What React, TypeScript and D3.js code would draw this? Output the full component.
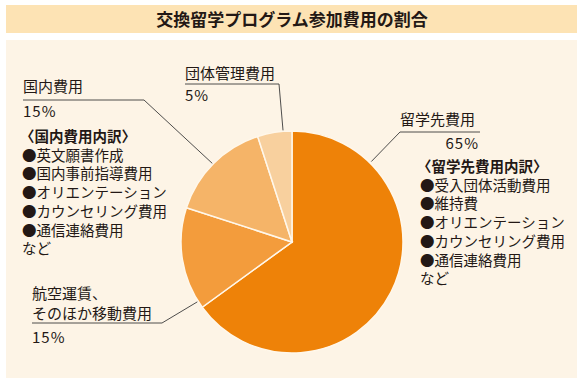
import React from 'react';
import * as d3 from 'd3';

// chart data
const categories = ['留学先費用', '航空運賃、そのほか移動費用', '国内費用', '団体管理費用'];
const shares = [65, 15, 15, 5];
const sliceColors = ['#ee8208', '#f39c3c', '#f5b468', '#f8d09e'];
const shareLabels = ['65%', '15%', '15%', '5%'];

const abroadItems = ['受入団体活動費用', '維持費', 'オリエンテーション', 'カウンセリング費用', '通信連絡費用'];
const domesticItems = ['英文願書作成', '国内事前指導費用', 'オリエンテーション', 'カウンセリング費用', '通信連絡費用'];

const W = 584;
const H = 385;
const cx = 292;
const cy = 242;
const R = 111;
const FONT = '"Noto Sans CJK JP", "Noto Sans", sans-serif';
const INK = '#231815';

// point on the pie rim, angle in degrees clockwise from 12 o'clock
const rim = (deg: number, r = R): [number, number] => {
  const a = (deg * Math.PI) / 180;
  return [cx + r * Math.sin(a), cy - r * Math.cos(a)];
};

const Lead = ({ pts }: { pts: [number, number][] }) => (
  <path d={d3.line()(pts) || ''} fill="none" stroke="#3a3a3a" strokeWidth={0.9} />
);

const App = () => {
  const pie = d3.pie<number>().sort(null).value(d => d);
  const arc = d3.arc<d3.PieArcDatum<number>>().innerRadius(0).outerRadius(R);
  const arcs = pie(shares);

  const listStep = 18.7;

  return (
    <svg width={W} height={H} style={{ position: 'absolute', left: 0, top: 0 }} fontFamily={FONT}>
      <rect x={0} y={0} width={W} height={H} fill="#ffffff" />
      <rect x={6} y={5} width={571} height={28} fill="#fde3b4" />
      <text x={292} y={26} textAnchor="middle" fontSize={17} fontWeight="bold" fill={INK}>
        交換留学プログラム参加費用の割合
      </text>
      <rect x={6} y={40} width={571} height={338} fill="#fdf4e6" />

      <g transform={`translate(${cx},${cy})`}>
        {arcs.map((a, i) => (
          <path key={categories[i]} d={arc(a) || ''} fill={sliceColors[i]} stroke="#fff7ea" strokeWidth={1.5} />
        ))}
      </g>

      {/* 団体管理費用 */}
      <Lead pts={[[185, 84], [279, 84], rim(-4.6, R + 1)]} />
      <g fontSize={15} fill={INK}>
        <text x={185} y={79}>{categories[3]}</text>
        <text x={185} y={101} letterSpacing={1}>{shareLabels[3]}</text>
      </g>

      {/* 国内費用 */}
      <Lead pts={[[23, 100], [144, 100], rim(-45.4, R + 1)]} />
      <g fontSize={15} fill={INK}>
        <text x={23} y={92}>{categories[2]}</text>
        <text x={23} y={117} letterSpacing={1}>{shareLabels[2]}</text>
        <text x={20} y={142} fontWeight="bold" fontSize={14.5}>〈国内費用内訳〉</text>
        {domesticItems.map((t, i) => (
          <text key={t} x={22} y={142 + listStep * (i + 1)} fontSize={14.5}>●{t}</text>
        ))}
        <text x={22} y={142 + listStep * 6} fontSize={14.5}>など</text>
      </g>

      {/* 留学先費用 */}
      <Lead pts={[[480, 132], [400, 132], rim(44.6, R + 2)]} />
      <g fontSize={15} fill={INK}>
        <text x={400} y={125}>{categories[0]}</text>
        <text x={479} y={149} textAnchor="end" letterSpacing={1}>{shareLabels[0]}</text>
        <text x={417} y={172} fontWeight="bold" fontSize={14.5}>〈留学先費用内訳〉</text>
        {abroadItems.map((t, i) => (
          <text key={t + i} x={420} y={172 + listStep * (i + 1)} fontSize={14.5}>●{t}</text>
        ))}
        <text x={420} y={172 + listStep * 6} fontSize={14.5}>など</text>
      </g>

      {/* 航空運賃 */}
      <Lead pts={[[32, 323], [162, 323], rim(237.7, R + 1)]} />
      <g fontSize={15} fill={INK}>
        <text x={32} y={299}>航空運賃、</text>
        <text x={32} y={319}>そのほか移動費用</text>
        <text x={32} y={343} letterSpacing={1}>{shareLabels[1]}</text>
      </g>
    </svg>
  );
};

export default App;
